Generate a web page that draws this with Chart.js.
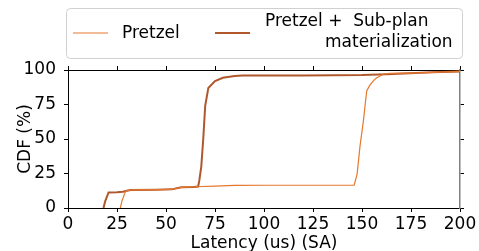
<!DOCTYPE html>
<html>
<head>
<meta charset="utf-8">
<script src="https://cdn.jsdelivr.net/npm/chart.js@4.4.1/dist/chart.umd.min.js"></script>
<style>
  html, body { margin: 0; padding: 0; background: #fff; }
  #wrap { width: 479px; height: 251px; }
</style>
</head>
<body>
<div id="wrap"><canvas id="c" width="479" height="251"></canvas></div>
<script>
const seriesNames = ["Pretzel", "Pretzel +  Sub-plan\nmaterialization"];
const xTicks = [0, 25, 50, 75, 100, 125, 150, 175, 200];
const yTicks = [0, 25, 50, 75, 100];

const pretzelX = [26.7, 27.5, 29.3, 31, 33, 45, 53, 56, 58, 65, 75, 85, 100, 146, 147.5, 149, 150.7, 152.4, 154, 156, 157.5, 160.9, 164, 175, 186, 200];
const pretzelY = [0, 5, 12, 12.8, 13.2, 13.3, 13.5, 14.5, 15, 15.4, 15.8, 16.4, 16.5, 16.6, 24.6, 45, 63, 84.8, 89, 92.5, 94.4, 96.9, 97.5, 97.8, 98.3, 99];

const subplanX = [18.1, 19, 20.7, 25, 28, 30, 32, 45, 53, 56, 58, 64, 66.4, 67, 68, 69, 70, 71.6, 75, 79, 85, 89, 120, 150, 162.7, 186, 200];
const subplanY = [0, 5, 11.3, 11.5, 11.8, 12.5, 13, 13.3, 13.5, 14.5, 15, 15.3, 15.6, 20, 30, 50, 74, 87, 92, 94.4, 95.7, 96, 96.1, 96.3, 97, 98.3, 99];

const colPretzel = "#e5772f";
const colSubplan = "#b0572b";
const FONT = "'DejaVu Sans', sans-serif";

function pts(xs, ys) { return xs.map((x, i) => ({ x: x, y: ys[i] })); }

const legendPlugin = {
  id: 'customLegend',
  afterDraw(chart) {
    const ctx = chart.ctx;
    ctx.save();
    const x0 = 66.5, y0 = 8.5, w = 396, h = 50, r = 4;
    ctx.beginPath();
    ctx.moveTo(x0 + r, y0);
    ctx.arcTo(x0 + w, y0, x0 + w, y0 + h, r);
    ctx.arcTo(x0 + w, y0 + h, x0, y0 + h, r);
    ctx.arcTo(x0, y0 + h, x0, y0, r);
    ctx.arcTo(x0, y0, x0 + w, y0, r);
    ctx.closePath();
    ctx.fillStyle = "rgba(255,255,255,0.8)";
    ctx.fill();
    ctx.strokeStyle = "#d0d0d0";
    ctx.lineWidth = 1;
    ctx.stroke();
    ctx.lineCap = "butt";
    ctx.strokeStyle = colPretzel; ctx.lineWidth = 1.2;
    ctx.beginPath(); ctx.moveTo(73, 33); ctx.lineTo(108, 33); ctx.stroke();
    ctx.strokeStyle = colSubplan; ctx.lineWidth = 2;
    ctx.beginPath(); ctx.moveTo(215, 33); ctx.lineTo(250, 33); ctx.stroke();
    ctx.fillStyle = "#000";
    ctx.font = "17px " + FONT;
    ctx.textBaseline = "middle";
    ctx.textAlign = "left";
    ctx.fillText(seriesNames[0], 122, 34);
    const lines = seriesNames[1].split("\n");
    ctx.fillText(lines[0], 265, 22);
    ctx.fillText(lines[1], 325, 43);
    ctx.restore();
  }
};

const tickFont = { family: FONT, size: 17 };

new Chart(document.getElementById('c'), {
  type: 'line',
  data: {
    datasets: [
      { label: seriesNames[0], data: pts(pretzelX, pretzelY), borderColor: colPretzel, borderWidth: 1.2, pointRadius: 0, tension: 0, fill: false, xAxisID: 'x', yAxisID: 'y' },
      { label: seriesNames[1], data: pts(subplanX, subplanY), borderColor: colSubplan, borderWidth: 2, pointRadius: 0, tension: 0, fill: false, xAxisID: 'x', yAxisID: 'y' }
    ]
  },
  options: {
    responsive: false,
    animation: false,
    events: [],
    layout: { padding: 0 },
    plugins: { legend: { display: false }, tooltip: { enabled: false }, title: { display: false } },
    scales: {
      x: {
        type: 'linear', position: 'bottom', min: 0, max: 200,
        afterBuildTicks: s => { s.ticks = xTicks.map(v => ({ value: v })); },
        ticks: { font: tickFont, color: '#000', padding: 2, maxRotation: 0, autoSkip: false },
        grid: { display: true, drawOnChartArea: false, drawTicks: true, tickLength: 4, color: '#000', tickColor: '#000' },
        border: { display: true, color: '#000', width: 1 },
        title: { display: true, text: 'Latency (us) (SA)', font: { family: FONT, size: 17 }, color: '#000', padding: { top: 0, bottom: -3 } },
        afterFit: s => { s.height = 43; }
      },
      x2: {
        type: 'linear', position: 'top', min: 0, max: 200,
        afterBuildTicks: s => { s.ticks = xTicks.map(v => ({ value: v })); },
        ticks: { display: false },
        grid: { display: true, drawOnChartArea: false, drawTicks: true, tickLength: 4, color: '#000', tickColor: '#000' },
        border: { display: true, color: '#000', width: 1 },
        afterFit: s => { s.height = 70; }
      },
      y: {
        type: 'linear', position: 'left', min: 0, max: 100,
        afterBuildTicks: s => { s.ticks = yTicks.map(v => ({ value: v })); },
        ticks: { font: tickFont, color: '#000', padding: 8 },
        grid: { display: true, drawOnChartArea: false, drawTicks: true, tickLength: 4, color: '#000', tickColor: '#000' },
        border: { display: true, color: '#000', width: 1 },
        title: { display: true, text: 'CDF (%)', font: { family: FONT, size: 17 }, color: '#000', padding: { top: 15, bottom: 0 } },
        afterFit: s => { s.width = 68; }
      },
      y2: {
        type: 'linear', position: 'right', min: 0, max: 100,
        afterBuildTicks: s => { s.ticks = yTicks.map(v => ({ value: v })); },
        ticks: { display: false },
        grid: { display: true, drawOnChartArea: false, drawTicks: true, tickLength: 4, color: '#000', tickColor: '#000' },
        border: { display: true, color: '#808080', width: 1.5 },
        afterFit: s => { s.width = 19; }
      }
    }
  },
  plugins: [legendPlugin]
});
</script>
</body>
</html>
